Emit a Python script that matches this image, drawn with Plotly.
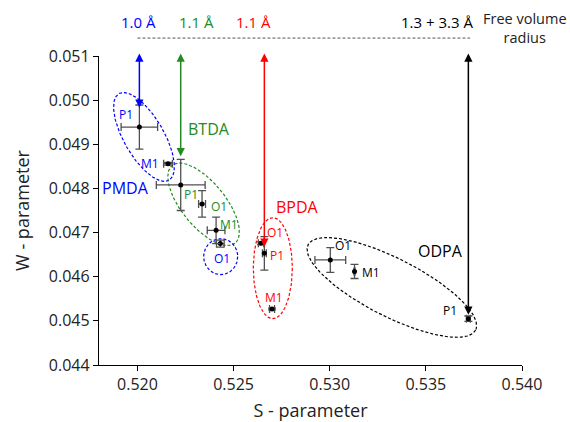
import numpy as np
import plotly.graph_objects as go

# ---------------- data ----------------
point_labels = ["P1", "M1", "O1"]

pmda_s = [0.5201, 0.52159, 0.52431]
pmda_w = [0.04939, 0.04856, 0.04675]
pmda_s_err = [0.00095, 0.00023, 0.00020]
pmda_w_err = [0.00050, 0.00003, 0.00008]

btda_labels = ["P1", "O1", "M1"]
btda_s = [0.52225, 0.52336, 0.52409]
btda_w = [0.04808, 0.04765, 0.04705]
btda_s_err = [0.00127, 0.00018, 0.00046]
btda_w_err = [0.00058, 0.00030, 0.00030]

bpda_labels = ["O1", "P1", "M1"]
bpda_s = [0.52643, 0.52660, 0.52700]
bpda_w = [0.04676, 0.04653, 0.04527]
bpda_s_err = [0.00014, 0.00010, 0.00013]
bpda_w_err = [0.00003, 0.00038, 0.00002]

odpa_labels = ["O1", "M1", "P1"]
odpa_s = [0.53003, 0.53129, 0.53721]
odpa_w = [0.04638, 0.04612, 0.04505]
odpa_s_err = [0.00080, 0.00003, 0.00010]
odpa_w_err = [0.00028, 0.00016, 0.00006]

group_names = ["PMDA", "BTDA", "BPDA", "ODPA"]
radius_labels = ["1.0 Å", "1.1 Å", "1.1 Å", "1.3 + 3.3 Å"]
arrow_x = [0.5201, 0.52225, 0.52660, 0.53721]
arrow_tip_w = [0.04983, 0.04873, 0.04668, 0.04514]
arrow_top_w = 0.05109

x_ticks = [0.520, 0.525, 0.530, 0.535, 0.540]
y_ticks = [0.044, 0.045, 0.046, 0.047, 0.048, 0.049, 0.050, 0.051]

# ---------------- style ----------------
BLUE = "#0000FF"
GREEN = "#228B22"
RED = "#FF0000"
BLACK = "#000000"
ERR = "#505050"
FONT = "Open Sans"

W, H = 570, 422
ML, MR, MT, MB = 99, 48, 56, 57
XR = [0.518, 0.540]
YR = [0.044, 0.051]
sx = (W - ML - MR) / (XR[1] - XR[0])
sy = (H - MT - MB) / (YR[1] - YR[0])

fig = go.Figure()


def ellipse(cx, cy, a, b, theta_deg, color):
    t = np.linspace(0, 2 * np.pi, 200)
    th = np.radians(theta_deg)
    u = a * np.cos(t)
    v = b * np.sin(t)
    dx = u * np.cos(th) - v * np.sin(th)
    dy = u * np.sin(th) + v * np.cos(th)
    fig.add_trace(go.Scatter(
        x=cx + dx / sx, y=cy - dy / sy, mode="lines",
        line=dict(color=color, width=1.2, dash="3px,2px"),
        hoverinfo="skip", showlegend=False))


# ellipses (center in data, semi-axes in px, angle in deg)
ellipse(0.52034, 0.049166, 50, 20, 60, BLUE)
ellipse(0.52344, 0.04764, 50, 22, 51, GREEN)
ellipse(0.52433, 0.046455, 17, 18, 0, BLUE)
ellipse(0.52704, 0.046193, 19.5, 50.5, 0, RED)
ellipse(0.53323, 0.045757, 94, 29, 27, BLACK)

groups = [
    (pmda_s, pmda_w, pmda_s_err, pmda_w_err, point_labels, BLUE,
     [(-13, 13), (-18, 0), (2, -15)]),
    (btda_s, btda_w, btda_s_err, btda_w_err, btda_labels, GREEN,
     [(10, -10), (17, -3), (13, 6)]),
    (bpda_s, bpda_w, bpda_s_err, bpda_w_err, bpda_labels, RED,
     [(14, 11), (13, -2), (2, 11)]),
    (odpa_s, odpa_w, odpa_s_err, odpa_w_err, odpa_labels, BLACK,
     [(13, 14), (16, -1), (-18, 8)]),
]

for s, w, se, we, labs, col, offs in groups:
    fig.add_trace(go.Scatter(
        x=s, y=w, mode="markers",
        marker=dict(color="black", size=5),
        error_x=dict(type="data", array=se, color=ERR, thickness=1.3, width=4),
        error_y=dict(type="data", array=we, color=ERR, thickness=1.3, width=4),
        showlegend=False, hoverinfo="skip"))
    for xi, yi, lab, (ox, oy) in zip(s, w, labs, offs):
        fig.add_annotation(x=xi, y=yi, text=lab, showarrow=False,
                           xshift=ox, yshift=oy,
                           font=dict(family=FONT, size=12, color=col))

# group names
group_pos = [(0.51938, 0.04800), (0.52374, 0.04934), (0.52831, 0.04757), (0.53574, 0.04659)]
group_cols = [BLUE, GREEN, RED, BLACK]
for name, (gx, gy), col in zip(group_names, group_pos, group_cols):
    fig.add_annotation(x=gx, y=gy, text=name, showarrow=False,
                       font=dict(family=FONT, size=16, color=col))

# double-headed arrows
for xa, tip, col in zip(arrow_x, arrow_tip_w, group_cols):
    fig.add_annotation(x=xa, y=tip, ax=xa, ay=arrow_top_w,
                       xref="x", yref="y", axref="x", ayref="y",
                       text="", showarrow=True, arrowhead=2, startarrowhead=2,
                       arrowside="end+start", arrowsize=1.1, startarrowsize=1.1,
                       arrowwidth=1.5, arrowcolor=col, standoff=0, startstandoff=0)

# radius labels on top
label_x = [0.52005, 0.52306, 0.52603, 0.53559]
for lx, txt, col in zip(label_x, radius_labels, group_cols):
    fig.add_annotation(x=lx, y=1.110, xref="x", yref="paper", yanchor="middle",
                       xanchor="center", text=txt, showarrow=False,
                       font=dict(family=FONT, size=15, color=col))
fig.add_annotation(x=1.007, y=1.089, xref="paper", yref="paper", yanchor="middle",
                   xanchor="center", text="Free volume<br>radius", showarrow=False,
                   font=dict(family=FONT, size=14.5, color="#222"))

fig.add_shape(type="line", xref="x", yref="paper", x0=0.520, x1=0.5373,
              y0=1.058, y1=1.058, line=dict(color="#555", width=1, dash="3px,2px"))

axis_common = dict(showline=True, linecolor="black", linewidth=1.3,
                   ticks="outside", ticklen=5, tickcolor="black", tickwidth=1.3,
                   showgrid=False, zeroline=False, mirror=False, automargin=False,
                   tickfont=dict(family=FONT, size=16, color="#222"))

fig.update_layout(
    width=W, height=H,
    margin=dict(l=ML, r=MR, t=MT, b=MB),
    plot_bgcolor="white", paper_bgcolor="white",
    showlegend=False,
    xaxis=dict(range=XR, tickvals=x_ticks, ticktext=[f"{v:.3f}" for v in x_ticks],
               title=dict(text="S - parameter", font=dict(family=FONT, size=18, color="#222"),
                          standoff=11), **axis_common),
    yaxis=dict(range=YR, tickvals=y_ticks, ticktext=[f"{v:.3f}" for v in y_ticks],
               title=dict(text="W - parameter", font=dict(family=FONT, size=18, color="#222"),
                          standoff=14), **axis_common),
)

fig.write_html("out.html", config={"displayModeBar": False},
               post_script="document.body.style.margin='0px';document.body.style.overflow='hidden';")
